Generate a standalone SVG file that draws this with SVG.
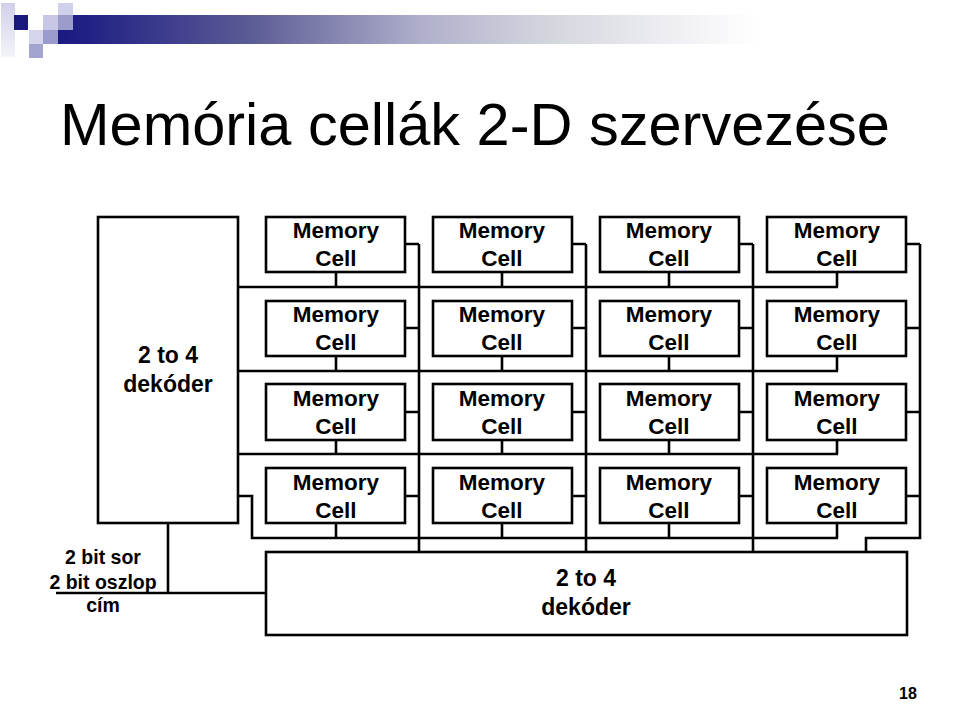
<svg xmlns="http://www.w3.org/2000/svg" width="960" height="708" viewBox="0 0 960 708">
<defs>
<linearGradient id="bar" x1="58" y1="0" x2="760" y2="0" gradientUnits="userSpaceOnUse">
<stop offset="0" stop-color="#1a1a80"/>
<stop offset="0.03" stop-color="#1e1e84"/>
<stop offset="0.27" stop-color="#5a5a95"/>
<stop offset="0.52" stop-color="#b0b0cc"/>
<stop offset="0.70" stop-color="#d4d6de"/>
<stop offset="0.9" stop-color="#f2f2f6"/>
<stop offset="1" stop-color="#ffffff"/>
</linearGradient>
<linearGradient id="strip" x1="0" y1="0" x2="0" y2="1">
<stop offset="0" stop-color="#d0d0ea"/>
<stop offset="1" stop-color="#f4f4fa"/>
</linearGradient>
<style>
.box{fill:#fff;stroke:#000;stroke-width:2.6}
.ln{fill:none;stroke:#000;stroke-width:2.6}
.cell{font-family:"Liberation Sans",Arial,sans-serif;font-weight:bold;font-size:22.5px;text-anchor:middle;fill:#000}
.dec{font-family:"Liberation Sans",Arial,sans-serif;font-weight:bold;font-size:23px;text-anchor:middle;fill:#000}
.addr{font-family:"Liberation Sans",Arial,sans-serif;font-weight:bold;font-size:19.5px;text-anchor:middle;fill:#000}
</style>
</defs>
<rect width="960" height="708" fill="#fff"/>
<g id="header">
<rect x="1" y="3" width="14" height="54" fill="url(#strip)"/>
<rect x="58" y="15" width="702" height="29" fill="url(#bar)"/>
<rect x="14" y="15" width="14" height="15" fill="#1a1a7e"/>
<rect x="29" y="30" width="14" height="14" fill="#d4d4ec"/>
<rect x="43" y="15" width="15" height="15" fill="#c8c8e6"/>
<rect x="43" y="30" width="15" height="14" fill="#9a9acc"/>
<rect x="58" y="3" width="15" height="12" fill="#d0d0ea"/>
<rect x="58" y="15" width="15" height="15" fill="#9c9ccc"/>
<rect x="29" y="44" width="14" height="14" fill="#a4a4d0"/>
</g>
<text x="60" y="145" font-family="'Liberation Sans',Arial,sans-serif" font-size="59.5" fill="#000">Memória cellák 2-D szervezése</text>
<g id="connectors">
<path class="ln" d="M238 287H838M336 272V287M502 272V287M669 272V287M837 272V287"/>
<path class="ln" d="M238 371H838M336 356V371M502 356V371M669 356V371M837 356V371"/>
<path class="ln" d="M238 454H838M336 440V454M502 440V454M669 440V454M837 440V454"/>
<path class="ln" d="M238 496H252V538H838M336 523V538M502 523V538M669 523V538M837 523V538"/>
<path class="ln" d="M405 244H419M405 328H419M405 412H419M405 496H419M419 244V552"/>
<path class="ln" d="M572 244H586M572 328H586M572 412H586M572 496H586M586 244V552"/>
<path class="ln" d="M739 244H753M739 328H753M739 412H753M739 496H753M753 244V552"/>
<path class="ln" d="M906 244H920M906 328H920M906 412H920M906 496H920M920 244V538H866V552"/>
<path class="ln" d="M168 523V593M56 593H266"/>
</g>
<g id="row-decoder">
<rect class="box" x="98" y="217" width="140" height="306"/>
<text class="dec" x="168" y="363">2 to 4</text>
<text class="dec" x="168" y="392">dekóder</text>
</g>
<g id="col-decoder">
<rect class="box" x="266" y="552" width="641" height="83"/>
<text class="dec" x="586" y="586">2 to 4</text>
<text class="dec" x="586" y="615">dekóder</text>
</g>
<g id="address">
<text class="addr" x="103" y="564">2 bit sor</text>
<text class="addr" x="103" y="589">2 bit oszlop</text>
<text class="addr" x="103" y="612">cím</text>
</g>
<g id="cell-1-1"><rect class="box" x="266" y="217" width="139" height="55"/><text class="cell" x="336" y="238">Memory</text><text class="cell" x="336" y="266">Cell</text></g>
<g id="cell-1-2"><rect class="box" x="433" y="217" width="139" height="55"/><text class="cell" x="502" y="238">Memory</text><text class="cell" x="502" y="266">Cell</text></g>
<g id="cell-1-3"><rect class="box" x="600" y="217" width="139" height="55"/><text class="cell" x="669" y="238">Memory</text><text class="cell" x="669" y="266">Cell</text></g>
<g id="cell-1-4"><rect class="box" x="767" y="217" width="139" height="55"/><text class="cell" x="837" y="238">Memory</text><text class="cell" x="837" y="266">Cell</text></g>
<g id="cell-2-1"><rect class="box" x="266" y="301" width="139" height="55"/><text class="cell" x="336" y="322">Memory</text><text class="cell" x="336" y="350">Cell</text></g>
<g id="cell-2-2"><rect class="box" x="433" y="301" width="139" height="55"/><text class="cell" x="502" y="322">Memory</text><text class="cell" x="502" y="350">Cell</text></g>
<g id="cell-2-3"><rect class="box" x="600" y="301" width="139" height="55"/><text class="cell" x="669" y="322">Memory</text><text class="cell" x="669" y="350">Cell</text></g>
<g id="cell-2-4"><rect class="box" x="767" y="301" width="139" height="55"/><text class="cell" x="837" y="322">Memory</text><text class="cell" x="837" y="350">Cell</text></g>
<g id="cell-3-1"><rect class="box" x="266" y="384" width="139" height="56"/><text class="cell" x="336" y="406">Memory</text><text class="cell" x="336" y="434">Cell</text></g>
<g id="cell-3-2"><rect class="box" x="433" y="384" width="139" height="56"/><text class="cell" x="502" y="406">Memory</text><text class="cell" x="502" y="434">Cell</text></g>
<g id="cell-3-3"><rect class="box" x="600" y="384" width="139" height="56"/><text class="cell" x="669" y="406">Memory</text><text class="cell" x="669" y="434">Cell</text></g>
<g id="cell-3-4"><rect class="box" x="767" y="384" width="139" height="56"/><text class="cell" x="837" y="406">Memory</text><text class="cell" x="837" y="434">Cell</text></g>
<g id="cell-4-1"><rect class="box" x="266" y="468" width="139" height="55"/><text class="cell" x="336" y="490">Memory</text><text class="cell" x="336" y="518">Cell</text></g>
<g id="cell-4-2"><rect class="box" x="433" y="468" width="139" height="55"/><text class="cell" x="502" y="490">Memory</text><text class="cell" x="502" y="518">Cell</text></g>
<g id="cell-4-3"><rect class="box" x="600" y="468" width="139" height="55"/><text class="cell" x="669" y="490">Memory</text><text class="cell" x="669" y="518">Cell</text></g>
<g id="cell-4-4"><rect class="box" x="767" y="468" width="139" height="55"/><text class="cell" x="837" y="490">Memory</text><text class="cell" x="837" y="518">Cell</text></g>
<text x="908" y="699" font-family="'Liberation Sans',Arial,sans-serif" font-weight="bold" font-size="16" text-anchor="middle" fill="#000">18</text>
</svg>
